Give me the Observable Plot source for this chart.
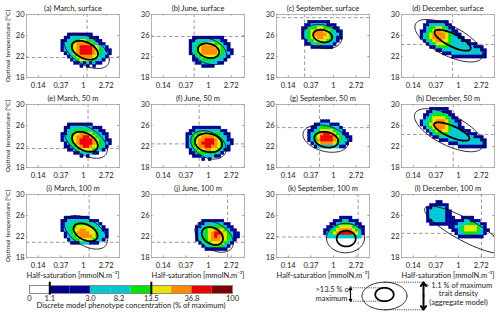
<!DOCTYPE html>
<html><head><meta charset="utf-8">
<script src="https://cdn.jsdelivr.net/npm/d3@7"></script>
<script src="https://cdn.jsdelivr.net/npm/@observablehq/plot@0.6"></script>
<style>
body{margin:0;background:#fff;}
#wrap{position:relative;width:500px;height:315px;overflow:hidden;background:#fff;font-family:Lato,sans-serif;}
#main{position:absolute;left:0;top:0;}
#cbar{position:absolute;left:0;top:281px;}
#leg{position:absolute;left:250px;top:281px;}
</style></head><body>
<div id="wrap"><div id="main"></div><div id="cbar"></div><div id="leg"></div></div>
<script>
// ---------- data ----------
const panelTitles = ["(a) March, surface","(b) June, surface","(c) September, surface","(d) December, surface",
  "(e) March, 50 m","(f) June, 50 m","(g) September, 50 m","(h) December, 50 m",
  "(i) March, 100 m","(j) June, 100 m","(k) September, 100 m","(l) December, 100 m"];
const panelCol = [0,1,2,3,0,1,2,3,0,1,2,3];
const panelRow = [0,0,0,0,1,1,1,1,2,2,2,2];
// crosshair (half-saturation, optimal temperature)
const crossK = [1.17,0.53,0.28,0.77,1.22,0.66,0.54,0.79,1.28,2.32,2.97,2.77];
const crossT = [21.8,25.8,29.4,24.3,21.6,22.5,25.6,24.3,20.9,20.9,21.9,22.6];
// ellipses: [centre ln K, centre T, half-width ln K, half-height T, correlation]
const innerEllipse = [[0.06,23.2,0.58,1.8,-0.4],[0.0,23.1,0.47,1.4,-0.2],[-0.48,25.9,0.42,1.2,-0.2],[-0.26,25.1,0.8,2.0,-0.75],
  [0.06,22.9,0.57,1.9,-0.4],[0.0,22.7,0.6,1.8,-0.15],[-0.32,23.3,0.53,1.5,-0.2],[-0.3,24.85,0.78,1.75,-0.75],
  [0.09,22.8,0.53,1.7,-0.4],[0.17,22.1,0.47,1.7,-0.3],[0.56,21.6,0.42,1.5,0],null];
const outerEllipse = [[0.14,23.05,1.0,3.35,-0.5],[0.0,23.0,0.8,2.55,-0.3],[-0.49,25.8,0.85,2.3,-0.2],[-0.43,25.0,1.5,4.05,-0.65],
  [0.1,23.05,0.95,3.3,-0.5],[0.0,22.3,0.78,2.7,-0.3],[-0.35,23.5,1.0,2.6,-0.3],[-0.43,25.1,1.52,4.1,-0.65],
  [0.1,22.8,0.95,3.2,-0.5],[0.25,22.0,0.85,3.0,-0.4],[0.53,21.7,0.84,2.8,0],[0.27,23.3,1.77,4.5,-0.85]];
// heat maps: [first row from top, first column from left]; digits = concentration class
const heatStart = [[6,11],[7,12],[2,8],[2,6],[6,11],[7,11],[5,10],[1,6],[7,11],[8,14],[7,15],[2,8]];
const heatRows = [
 ["..11111111.......",".11222222111.....","1122334433211....","12234555543211...","122345666654221..","1223456666543211.",".122456666543221.","..1234555544221..","...12344443221...","....112121211....","......1.1.1......"],
 [".1111111111...","112222222211..","1223344433211.","1234555544321.","12345555543211","12345555543221",".123444443221.",".11233332221..","..112222211...","....1111......"],
 ["..1111111....",".1122222111..","112334433211.","1234555443211","1234555543221","1234455443211",".12344443221.",".1122332221..","...1111111..."],
 ["..1111111............",".112222211...........",".1233443211..........","112345543211.........","1234555543211........","12345555432211.......",".123455443222111.....","..1234443322222111...","...11233322222222111.",".....1122222222222211",".......11122222222221","..........11111111111"],
 ["..11111111......",".112222222111...",".1223333322211..","112344554432211.","122345566543221.","1223456666543211",".123456666543221",".11234566544321.","..112344443221..","....11222211....","......1.1......."],
 ["..111111111....",".112222222211..","11233444433211.","12344555543221.","123455666543211","123456666543221","12345566554321.",".1234455443211.",".11233333321...","..111222211....",".....1.1......."],
 ["....111.......","..11222111....",".1123332221...","112344443221..","1234566543211.","12346666543211","12356666543221",".124555543221.","..1222222211.."],
 ["...111111............","..11222111...........",".1123333211..........",".12344443211.........","1223455543211........","1234555543221........",".1234555432211.......","..12345443222111.....","...123333222222111...","....1122222222222111.","......111222222222211",".........111222222221","............111111111"],
 [".11111111......","112222222111...","1222333332221..","12233444443221.","122344554443211",".12345555443221",".12234555543221","..123344443221.","...111222111..."],
 ["..1111111.....",".1122222211...","112233333211..","1223445543211.","12234566543211","12234565543211","1233455544321.",".12334444321..","..122333321...","...1111111...."],
 [".....1111....","...11122111..","..1122332211.",".112344443211","1123455554321","1234566665421",".22222222222."],
 ["...11...............",".111111.............","1122221.............","12222211............","12222211............","122222111..1111.....","11222211111122111...",".111111111222332211.",".......112234444321.","........112344443211",".........1223333221.","..........11111111.."]
];
const classColors = ["#00008c","#00c8d2","#00e600","#e6e600","#ff8c00","#ee0000","#7f0000"];
const xTicks = [Math.exp(-2), Math.exp(-1), 1, Math.E];
const xTickLabels = ["0.14","0.37","1","2.72"];
const yTicks = [18,22,26,30];
// colour bar
const cbBounds = [0,1.1,1.8,3.0,5.0,8.2,13.5,22.3,36.8,60.7,100];
const cbColors = ["#ffffff","#00008c","#00008c","#00c8d2","#00c8d2","#00e600","#e6e600","#ff8c00","#ee0000","#7f0000"];
const cbTicks = [0,1.1,3.0,8.2,13.5,36.8,100];
const cbTickLabels = ["0","1.1","3.0","8.2","13.5","36.8","100"];
const cbLimits = [1.1,13.5];

// ---------- derived ----------
const LNMIN = -2.52, LNMAX = 1.59, CELL_LN = 0.14, CELL_T = 0.6, TTOP = 30;
const cells = [];
heatRows.forEach((rows, p) => {
  const [r0, c0] = heatStart[p];
  rows.forEach((row, k) => {
    [...row].forEach((ch, m) => {
      if (ch === ".") return;
      const i = c0 + m, r = r0 + k;
      cells.push({fx: panelCol[p], fy: panelRow[p],
        x1: Math.exp(LNMIN + i*CELL_LN), x2: Math.exp(LNMIN + (i+1)*CELL_LN),
        y1: TTOP - (r+1)*CELL_T, y2: TTOP - r*CELL_T, fill: classColors[+ch - 1]});
    });
  });
});
function ellipsePts(list) {
  const out = [];
  list.forEach((e, p) => {
    if (!e) return;
    const [cx, cy, rx, ry, rho] = e;
    const s = Math.sqrt(1 - rho*rho);
    for (let j = 0; j <= 96; j++) {
      const t = 2*Math.PI*j/96;
      out.push({fx: panelCol[p], fy: panelRow[p], id: p,
        x: Math.exp(cx + rx*Math.cos(t)), y: cy + ry*(rho*Math.cos(t) + s*Math.sin(t))});
    }
  });
  return out;
}
const panels = panelTitles.map((t, p) => ({fx: panelCol[p], fy: panelRow[p], title: t, k: crossK[p], t: crossT[p]}));
const xMin = Math.exp(LNMIN), xMax = Math.exp(LNMAX);
const fontFam = "Lato, sans-serif";

const main = Plot.plot({
  width: 500, height: 281,
  marginLeft: 25, marginRight: 5, marginTop: 13, marginBottom: 24,
  style: {fontFamily: fontFam, fontSize: "7.5px", color: "#222", background: "white", overflow: "visible"},
  fx: {domain: [0,1,2,3], paddingInner: 0.26, paddingOuter: 0, axis: null, label: null},
  fy: {domain: [0,1,2], paddingInner: 0.304, paddingOuter: 0, axis: null, label: null},
  x: {type: "log", domain: [xMin, xMax], axis: null},
  y: {domain: [18, 30]},
  color: {type: "identity"},
  marks: [
    Plot.ruleX(panels, {fx: "fx", fy: "fy", x: "k", y1: 18, y2: 30, stroke: "#999", strokeDasharray: "3.5,2.5"}),
    Plot.ruleY(panels, {fx: "fx", fy: "fy", y: "t", x1: xMin, x2: xMax, stroke: "#999", strokeDasharray: "3.5,2.5"}),
    Plot.rect(cells, {fx: "fx", fy: "fy", x1: "x1", x2: "x2", y1: "y1", y2: "y2", fill: "fill", stroke: "fill", strokeWidth: 0.4, clip: true}),
    Plot.line(ellipsePts(outerEllipse), {fx: "fx", fy: "fy", x: "x", y: "y", z: "id", stroke: "#111", strokeWidth: 0.9, clip: true}),
    Plot.line(ellipsePts(innerEllipse), {fx: "fx", fy: "fy", x: "x", y: "y", z: "id", stroke: "#000", strokeWidth: 1.8, clip: true}),
    Plot.frame({stroke: "#b4b4b4"}),
    Plot.ruleX(xTicks, {x: d => d, y1: 18, y2: 18.3, stroke: "#999"}),
    Plot.ruleX(xTicks, {x: d => d, y1: 29.7, y2: 30, stroke: "#999"}),
    Plot.ruleY(yTicks, {y: d => d, x1: xMin, x2: Math.exp(LNMIN + 0.07), stroke: "#999"}),
    Plot.ruleY(yTicks, {y: d => d, x1: Math.exp(LNMAX - 0.07), x2: xMax, stroke: "#999"}),
    Plot.text(xTicks, {x: d => d, text: (d, i) => xTickLabels[i], frameAnchor: "bottom", dy: 8, lineAnchor: "middle"}),
    Plot.axisY(yTicks, {tickSize: 0, tickPadding: 2, label: null, facetAnchor: null}),
    Plot.text(panels, {fx: "fx", fy: "fy", text: "title", frameAnchor: "top", dy: -6, lineAnchor: "middle"}),
    Plot.text(panels.filter(d => d.fx === 0), {fx: "fx", fy: "fy", x: xMin, y: 24, text: () => "Optimal temperature [°C]",
      rotate: -90, dx: -19, fontSize: 6.5}),
    Plot.text(panels.filter(d => d.fy === 2), {fx: "fx", fy: "fy", text: () => "Half-saturation [mmolN.m⁻³]",
      frameAnchor: "bottom", dy: 18.5, lineAnchor: "middle"})
  ]
});
document.getElementById("main").appendChild(main);

// colour bar (segments drawn at equal widths, indexed by boundary position)
const cbSegs = cbColors.map((c, i) => ({i0: i, i1: i + 1, fill: c}));
const cbar = Plot.plot({
  width: 250, height: 34, marginLeft: 29, marginRight: 18, marginTop: 4, marginBottom: 22,
  style: {fontFamily: fontFam, fontSize: "7.5px", color: "#222", background: "white", overflow: "visible"},
  x: {domain: [0, cbBounds.length - 1], axis: null},
  y: {domain: [0, 1], axis: null},
  color: {type: "identity"},
  marks: [
    Plot.rect(cbSegs, {x1: "i0", x2: "i1", y1: 0, y2: 1, fill: "fill"}),
    Plot.frame({stroke: "#888"}),
    Plot.ruleX(cbLimits, {x: d => cbBounds.indexOf(d), y1: -0.2, y2: 1.4, stroke: "#000", strokeWidth: 2}),
    Plot.text(cbTicks.filter(d => d !== 8.2), {x: d => cbBounds.indexOf(d), y: 0, dy: 4.8, lineAnchor: "middle",
      text: d => cbTickLabels[cbTicks.indexOf(d)]}),
    Plot.text([8.2], {x: d => cbBounds.indexOf(d), y: 0, dy: 4.8, dx: -12, lineAnchor: "middle", text: () => "8.2"}),
    Plot.text(["Discrete model phenotype concentration (% of maximum)"], {frameAnchor: "bottom", dy: 12.3, lineAnchor: "middle", text: d => d})
  ]
});
document.getElementById("cbar").appendChild(cbar);

// ellipse legend (schematic, in page coordinates)
const legOuter = [384, 295.5, 22.5, 13.8];
const legInner = [384, 294, 9.2, 6.7];
function legEll([cx, cy, rx, ry]) {
  return d3.range(0, 97).map(j => ({x: cx + rx*Math.cos(2*Math.PI*j/96), y: cy + ry*Math.sin(2*Math.PI*j/96)}));
}
const legDots = [
  {x1: 351, x2: 384, y: legInner[1] - legInner[3]}, {x1: 351, x2: 384, y: legInner[1] + legInner[3]},
  {x1: 384, x2: 423, y: legOuter[1] - legOuter[3]}, {x1: 384, x2: 423, y: legOuter[1] + legOuter[3]}];
const legArrows = [
  {x: 350, y1: 294, y2: legInner[1] - legInner[3], w: 1.2}, {x: 350, y1: 294, y2: legInner[1] + legInner[3], w: 1.2},
  {x: 423, y1: 295.5, y2: legOuter[1] - legOuter[3], w: 2}, {x: 423, y1: 295.5, y2: legOuter[1] + legOuter[3], w: 2}];
const legTexts = [
  {x: 315, y: 289, t: ">13.5 % of", a: "start"}, {x: 315, y: 297.7, t: "maximum", a: "start"},
  {x: 458, y: 285, t: "> 1.1 % of maximum", a: "middle"}, {x: 458, y: 293.5, t: "trait density", a: "middle"},
  {x: 458, y: 302.3, t: "(aggregate model)", a: "middle"}];
const leg = Plot.plot({
  width: 250, height: 34, margin: 0,
  style: {fontFamily: fontFam, fontSize: "7.5px", color: "#222", background: "white", overflow: "visible"},
  x: {domain: [250, 500], range: [0, 250], axis: null},
  y: {domain: [281, 315], range: [0, 34], axis: null},
  marks: [
    Plot.line(legEll(legOuter), {x: "x", y: "y", stroke: "#111", strokeWidth: 0.9}),
    Plot.line(legEll(legInner), {x: "x", y: "y", stroke: "#000", strokeWidth: 1.8}),
    Plot.ruleY(legDots, {x1: "x1", x2: "x2", y: "y", stroke: "#000", strokeDasharray: "1,1.2", strokeWidth: 0.8}),
    Plot.arrow(legArrows.filter(d => d.w < 2), {x1: "x", x2: "x", y1: "y1", y2: "y2", stroke: "#000", strokeWidth: 1.2, headLength: 4, headAngle: 70}),
    Plot.arrow(legArrows.filter(d => d.w >= 2), {x1: "x", x2: "x", y1: "y1", y2: "y2", stroke: "#000", strokeWidth: 2, headLength: 5, headAngle: 70}),
    Plot.text(legTexts.filter(d => d.a === "start"), {x: "x", y: "y", text: "t", textAnchor: "start"}),
    Plot.text(legTexts.filter(d => d.a === "middle"), {x: "x", y: "y", text: "t", textAnchor: "middle"})
  ]
});
document.getElementById("leg").appendChild(leg);
</script>
</body></html>
